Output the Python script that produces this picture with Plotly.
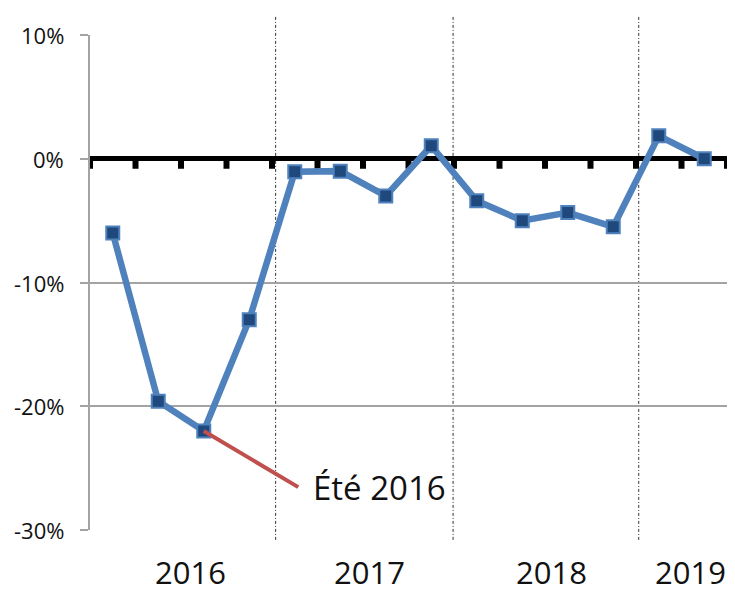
import plotly.graph_objects as go

# Data
quarters = ["T1 2016", "T2 2016", "T3 2016", "T4 2016",
            "T1 2017", "T2 2017", "T3 2017", "T4 2017",
            "T1 2018", "T2 2018", "T3 2018", "T4 2018",
            "T1 2019", "T2 2019"]
values = [-6.0, -19.6, -22.0, -13.0,
          -1.05, -1.0, -3.0, 1.05,
          -3.4, -5.0, -4.35, -5.5,
          1.85, 0.0]
years = ["2016", "2017", "2018", "2019"]
year_label_pos = [2.2, 6.15, 10.15, 13.2]
year_separators = [4.08, 7.98, 12.06]
y_ticks = [10, 0, -10, -20, -30]
y_tick_text = ["10%", "0%", "-10%", "-20%", "-30%"]

x_pos = [i + 0.5 for i in range(len(quarters))]

FONT = "Open Sans, Noto Sans, DejaVu Sans, sans-serif"
GRID = "#a3a3a3"

fig = go.Figure()
fig.add_trace(go.Scatter(
    x=x_pos, y=values, mode="lines+markers",
    line=dict(color="#4f81bd", width=6.5),
    marker=dict(symbol="square", size=13, color="#1f497d",
                line=dict(color="#4f81bd", width=2)),
    text=quarters, hoverinfo="text+y", showlegend=False,
))

shapes = []
for xs in year_separators:
    shapes.append(dict(type="line", xref="x", yref="paper",
                       x0=xs, x1=xs, y0=-0.02, y1=1.04,
                       line=dict(color="#333333", width=1, dash="3px,2px,1px,2px"),
                       layer="below"))
# small tick marks hanging under the zero line, at each quarter boundary
for i in range(len(quarters) + 1):
    shapes.append(dict(type="rect", xref="x", yref="y",
                       xsizemode="pixel", xanchor=i, x0=-3, x1=3,
                       ysizemode="pixel", yanchor=0, y0=-1, y1=-10,
                       fillcolor="black", line=dict(width=0),
                       layer="below"))

annotations = []
for yv, yt in zip(y_ticks, y_tick_text):
    annotations.append(dict(text=yt, x=0, xref="paper", y=yv, yref="y",
                            xanchor="right", yanchor="middle", xshift=-24,
                            showarrow=False,
                            font=dict(family=FONT, size=22, color="#111111")))
for yr, xp in zip(years, year_label_pos):
    annotations.append(dict(text=yr, x=xp, xref="x", y=0, yref="paper",
                            xanchor="center", yanchor="top", yshift=-19,
                            showarrow=False,
                            font=dict(family=FONT, size=31, color="#111111")))

# Pointer line for summer 2016
annotations.append(dict(text="", x=x_pos[2], y=values[2], xref="x", yref="y",
                        showarrow=True, ax=96, ay=57, arrowhead=0,
                        arrowwidth=4, arrowcolor="#c0504d", standoff=0,
                        startstandoff=0))
annotations.append(dict(text="Été 2016", x=4.85, y=-26.6, xref="x", yref="y",
                        xanchor="left", yanchor="middle", showarrow=False,
                        font=dict(family=FONT, size=33, color="#111111")))

# the page adds an 8px body margin, so the figure is sized to compensate
fig.update_layout(
    width=727, height=586,
    margin=dict(l=82, r=8, t=27, b=64, autoexpand=False),
    paper_bgcolor="white", plot_bgcolor="white",
    shapes=shapes, annotations=annotations,
    xaxis=dict(range=[0, 14], showgrid=False, zeroline=False,
               showline=False, showticklabels=False, ticks=""),
    yaxis=dict(range=[-30, 10], tickvals=y_ticks, showticklabels=False,
               showgrid=True, gridcolor=GRID, gridwidth=2,
               zeroline=True, zerolinecolor="black", zerolinewidth=5,
               showline=True, linecolor=GRID, linewidth=2,
               ticks="outside", ticklen=8, tickwidth=2, tickcolor=GRID,
               automargin=False),
)

fig.write_html("out.html")
